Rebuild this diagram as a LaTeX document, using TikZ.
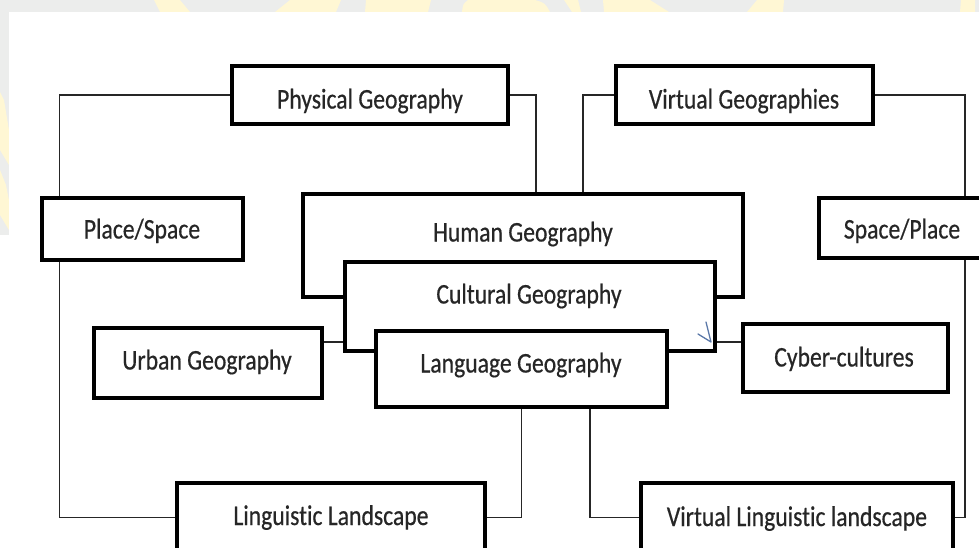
\documentclass[tikz,border=0pt]{standalone}
\usepackage{fontspec}
\setmainfont{Carlito}[FakeStretch=0.83, FakeBold=0.5, Ligatures={NoCommon}]
\definecolor{ink}{HTML}{262626}
\definecolor{paper}{HTML}{ECEDEC}
\definecolor{wmyellow}{HTML}{FFF7D4}
\definecolor{tick}{HTML}{5A78A8}
\begin{document}
\begin{tikzpicture}[x=1pt,y=-1pt,
  box/.style={draw=black, line width=4pt, fill=white, inner sep=0pt},
  txt/.style={font=\fontsize{28.5}{31}\selectfont, text=ink, inner sep=0pt, anchor=base},
  link/.style={draw=black!85, line width=1.4pt},
  wm/.style={fill=wmyellow}]
\useasboundingbox (0,0) rectangle (979,547);
\clip (0,0) rectangle (979,547);

% page margin with the pale watermark letters
\fill[paper] (0,0) rectangle (979,547);
\fill[wm] (154,0) -- (180,0) -- (190,12) -- (160,12) -- cycle;
\fill[wm] (290,0) -- (341,0) -- (336,12) -- (275,12) -- cycle;
\fill[wm] (366,0) -- (431,0) -- (428,12) -- (365,12) -- cycle;
\fill[wm] (468,0) -- (535,0) .. controls (545,3) .. (550,12) -- (462,12) .. controls (463,4) .. cycle;
\fill[wm] (564,0) -- (578,0) -- (581,12) -- (572,12) -- cycle;
\fill[wm] (603,0) -- (650,0) -- (669,12) -- (604,12) -- cycle;
\fill[wm] (757,0) -- (784,0) -- (783,12) -- (747,12) -- cycle;
\fill[wm] (961,0) -- (975,0) -- (975,12) -- (960,12) -- cycle;
\fill[wm] (0,92) -- (4,100) -- (9,130) -- (9,165) -- (0,150) -- cycle;
\fill[wm] (0,170) -- (6,185) -- (9,200) -- (9,230) -- (0,215) -- cycle;

% white sheet
\fill[white] (9,12) rectangle (979,547);
\fill[white] (0,235) rectangle (9,547);

% boxes
\node[box, minimum width=276pt, minimum height=58pt] (phys)    at (370,95)    {};
\node[box, minimum width=257pt, minimum height=58pt] (virt)    at (744.5,95)  {};
\node[box, minimum width=201pt, minimum height=62pt] (place)   at (142,229)   {};
\node[box, minimum width=166pt, minimum height=60pt] (spacepl) at (902,228)   {};
\node[box, minimum width=440pt, minimum height=103pt] (human)  at (523,245.5) {};
\node[box, minimum width=370pt, minimum height=89pt] (cult)    at (530,306.5) {};
\node[box, minimum width=291pt, minimum height=76pt] (lang)    at (521.5,369) {};
\node[box, minimum width=228pt, minimum height=70pt] (urban)   at (208,363)   {};
\node[box, minimum width=205pt, minimum height=68pt] (cyber)   at (845.5,358) {};
\node[box, minimum width=308pt, minimum height=69pt] (ling)    at (331,517.5) {};
\node[box, minimum width=312pt, minimum height=69pt] (vll)     at (797,517.5) {};

% labels
\node[txt] (physT)    at (370,108.5) {Physical Geography};
\node[txt] (virtT)    at (744,108.5) {Virtual Geographies};
\node[txt] (placeT)   at (142,238.5) {Place/Space};
\node[txt] (spaceplT) at (902,238.5) {Space/Place};
\node[txt] (humanT)   at (523,241.5) {Human Geography};
\node[txt] (cultT)    at (529,303.5) {Cultural Geography};
\node[txt] (langT)    at (521,372.5) {Language Geography};
\node[txt] (urbanT)   at (207,369.5) {Urban Geography};
\node[txt] (cyberT)   at (844,366.5) {Cyber-cultures};
\node[txt] (lingT)    at (331,525) {Linguistic Landscape};
\node[txt] (vllT)     at (797,526) {Virtual Linguistic landscape};

% connectors
\draw[link] (phys.west) -| ([xshift=20pt]place.north west);
\draw[link] (phys.east) -| ([xshift=13pt]human.north);
\draw[link] (virt.west) -| ([xshift=60pt]human.north);
\draw[link] (virt.east) -| ([xshift=148pt]spacepl.north west);
\draw[link] ([xshift=148pt]spacepl.south west) |- (vll.east);
\draw[link] ([xshift=20pt]place.south west) |- (ling.west);
\draw[link] ([yshift=21pt]urban.east) -- ([yshift=-35.5pt]cult.west);
\draw[link] ([yshift=-35.5pt]cult.east) -- ([yshift=16pt]cyber.west);
\draw[link] (lang.south) |- (ling.east);
\draw[link] ([xshift=68.5pt]lang.south) |- (vll.west);

% hand-drawn tick
\draw[tick, line width=1.3pt, line cap=round, line join=round]
  (698,334) -- (711,342) -- (706,322);
\end{tikzpicture}
\end{document}
